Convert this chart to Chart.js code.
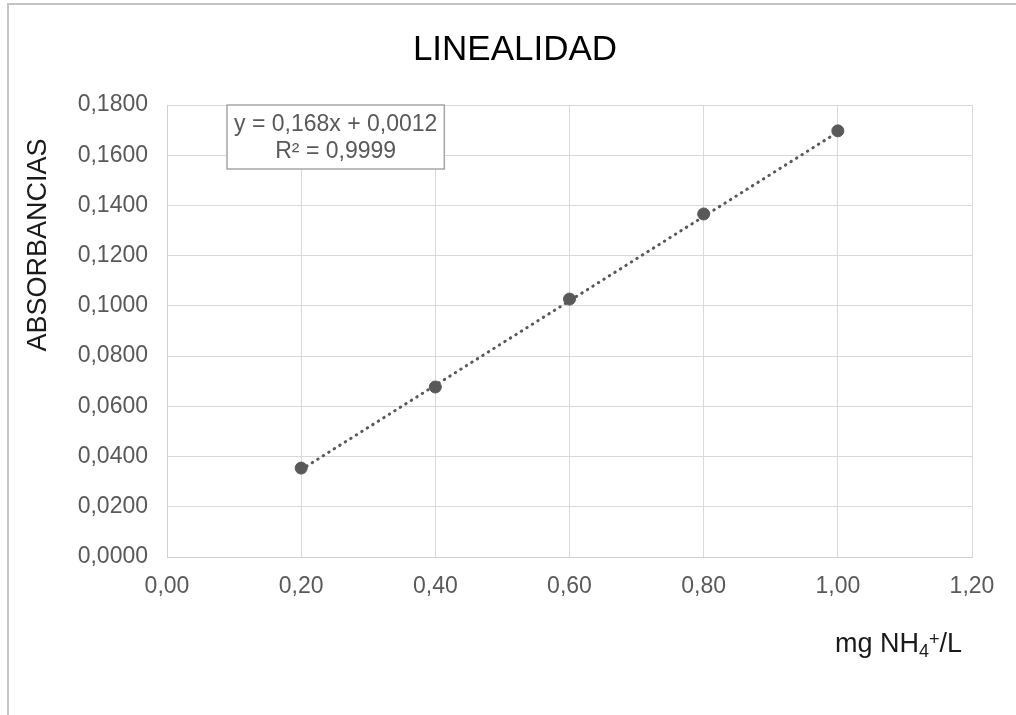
<!DOCTYPE html>
<html><head><meta charset="utf-8">
<script src="https://cdn.jsdelivr.net/npm/chart.js@4.4.1/dist/chart.umd.min.js"></script>
<style>
html,body{margin:0;padding:0;background:#fff;overflow:hidden}
#wrap{position:relative;width:1016px;height:715px}
#frame{position:absolute;left:7px;top:3px;width:1100px;height:800px;border-top:2px solid #c4c4c4;border-left:2px solid #c4c4c4;pointer-events:none}
canvas{position:absolute;left:0;top:0}
</style></head><body>
<div id="wrap"><canvas id="c" width="1016" height="715"></canvas><div id="frame"></div></div>
<script>
const concentrations = [0.2, 0.4, 0.6, 0.8, 1.0];
const absorbances = [0.0354, 0.0677, 0.1027, 0.1366, 0.1697];
const trendX = [0.2, 1.0];
const trendY = [0.0348, 0.1692];
const xTickValues = [0, 0.2, 0.4, 0.6, 0.8, 1.0, 1.2];
const xTickLabels = ['0,00', '0,20', '0,40', '0,60', '0,80', '1,00', '1,20'];
const yTickValues = [0, 0.02, 0.04, 0.06, 0.08, 0.10, 0.12, 0.14, 0.16, 0.18];
const yTickLabels = ['0,0000', '0,0200', '0,0400', '0,0600', '0,0800', '0,1000', '0,1200', '0,1400', '0,1600', '0,1800'];
const equationLines = ['y = 0,168x + 0,0012', 'R² = 0,9999'];
const chartTitle = 'LINEALIDAD';
const yAxisTitle = 'ABSORBANCIAS';
const xAxisTitleParts = [['mg NH', 'n'], ['4', 'sub'], ['+', 'sup'], ['/L', 'n']];

const FAM = "'Liberation Sans', Arial, sans-serif";
const GRAY = '#595959';

const overlay = {
  id: 'overlay',
  afterDraw(chart) {
    const ctx = chart.ctx, a = chart.chartArea;
    ctx.save();
    // chart title
    ctx.font = '35px ' + FAM;
    ctx.fillStyle = '#000';
    ctx.textAlign = 'center';
    ctx.textBaseline = 'middle';
    ctx.fillText(chartTitle, chart.width / 2 + 7, a.top - 55);
    // equation box
    ctx.font = '23px ' + FAM;
    const w = Math.max(...equationLines.map(t => ctx.measureText(t).width)) + 14;
    const bx = a.left + 60, by = a.top, bh = 64;
    ctx.fillStyle = '#fff';
    ctx.fillRect(bx, by, w, bh);
    ctx.strokeStyle = '#a6a6a6';
    ctx.lineWidth = 1.5;
    ctx.strokeRect(bx, by, w, bh);
    ctx.fillStyle = GRAY;
    ctx.textAlign = 'center';
    ctx.textBaseline = 'middle';
    ctx.fillText(equationLines[0], bx + w / 2, by + 20);
    ctx.fillText(equationLines[1], bx + w / 2, by + 47);
    // y axis title
    ctx.save();
    ctx.translate(a.left - 128, a.top + 140);
    ctx.rotate(-Math.PI / 2);
    ctx.font = '27px ' + FAM;
    ctx.fillStyle = '#1a1a1a';
    ctx.textAlign = 'center';
    ctx.textBaseline = 'middle';
    ctx.fillText(yAxisTitle, 0, 0);
    ctx.restore();
    // x axis title with sub/superscript
    ctx.textAlign = 'left';
    ctx.textBaseline = 'alphabetic';
    ctx.fillStyle = '#1a1a1a';
    const fonts = { n: '27px ' + FAM, sub: '18px ' + FAM, sup: '18px ' + FAM };
    const offs = { n: 0, sub: 5, sup: -7 };
    let total = 0;
    xAxisTitleParts.forEach(([t, k]) => { ctx.font = fonts[k]; total += ctx.measureText(t).width; });
    let x = a.right - 10 - total;
    const base = a.bottom + 95;
    xAxisTitleParts.forEach(([t, k]) => {
      ctx.font = fonts[k];
      ctx.fillText(t, x, base + offs[k]);
      x += ctx.measureText(t).width;
    });
    ctx.restore();
  }
};

new Chart(document.getElementById('c'), {
  type: 'scatter',
  data: {
    datasets: [
      {
        type: 'line',
        label: 'Tendencia',
        data: trendX.map((x, i) => ({ x, y: trendY[i] })),
        borderColor: GRAY,
        borderWidth: 3,
        borderDash: [0.5, 6],
        borderCapStyle: 'round',
        pointRadius: 0,
        fill: false,
        order: 2
      },
      {
        label: 'Absorbancia',
        data: concentrations.map((x, i) => ({ x, y: absorbances[i] })),
        backgroundColor: GRAY,
        borderColor: GRAY,
        pointRadius: 6,
        pointHoverRadius: 6,
        order: 1
      }
    ]
  },
  options: {
    responsive: false,
    devicePixelRatio: 1,
    animation: false,
    layout: { padding: { left: 0, right: 44, top: 105, bottom: 0 } },
    plugins: {
      legend: { display: false },
      tooltip: { enabled: false },
      title: { display: false }
    },
    scales: {
      x: {
        type: 'linear',
        min: 0, max: 1.2,
        afterBuildTicks: s => { s.ticks = xTickValues.map(v => ({ value: v })); },
        afterFit: s => { s.height = 158; },
        grid: { color: '#d9d9d9', lineWidth: 1, drawTicks: false },
        border: { color: '#d0d0d0', width: 1 },
        ticks: {
          color: GRAY,
          font: { family: FAM, size: 23 },
          padding: 16,
          maxRotation: 0,
          callback: (v, i) => xTickLabels[i]
        }
      },
      y: {
        type: 'linear',
        min: 0, max: 0.18,
        afterBuildTicks: s => { s.ticks = yTickValues.map(v => ({ value: v })); },
        afterFit: s => { s.width = 167; },
        grid: { color: '#d9d9d9', lineWidth: 1, drawTicks: false },
        border: { color: '#d0d0d0', width: 1 },
        ticks: {
          color: GRAY,
          font: { family: FAM, size: 23 },
          padding: 19,
          callback: (v, i) => yTickLabels[i]
        }
      }
    }
  },
  plugins: [overlay]
});
</script>
</body></html>
